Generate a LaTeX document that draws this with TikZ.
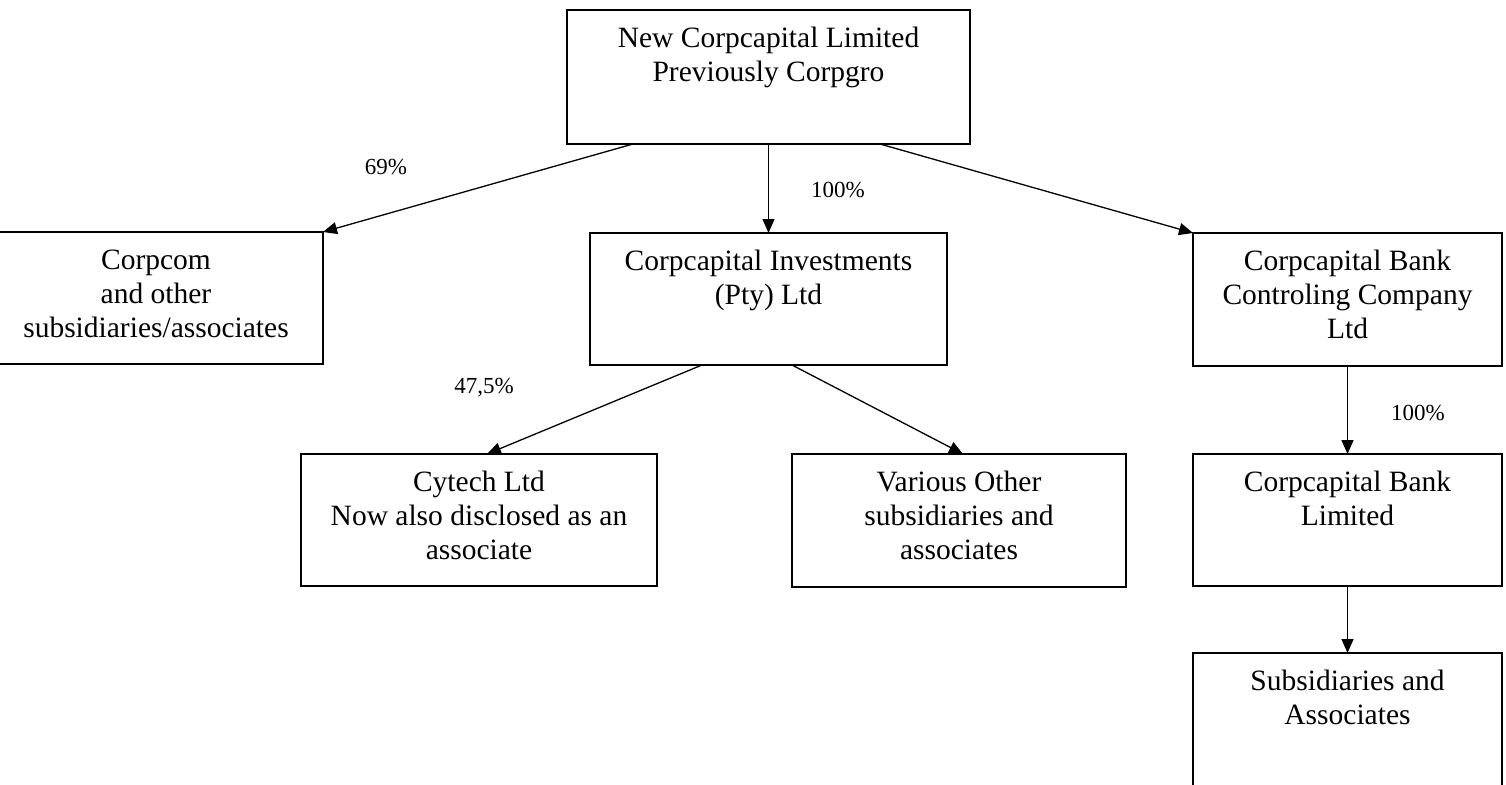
\documentclass[tikz,border=0pt]{standalone}
\usepackage{fontspec}
\setmainfont{Liberation Serif}
\usetikzlibrary{arrows.meta}
\begin{document}
\begin{tikzpicture}[x=1pt,y=-1pt,
  box/.style={draw, line width=1.5pt, rectangle, anchor=north west, inner sep=0pt, outer sep=0pt},
  btext/.style={anchor=north, align=center, inner sep=0pt, font=\fontsize{29.5}{34}\selectfont},
  pct/.style={font=\fontsize{23}{27}\selectfont, inner sep=0pt},
  conn/.style={line width=1.3pt, -{Triangle[length=14pt,width=12pt]}}]
\useasboundingbox (0,0) rectangle (1506,784);
\begin{scope}
\clip (0,0) rectangle (1506,784);
\node[box, minimum width=403pt, minimum height=134pt] (top) at (567,10) {};
\node[box, minimum width=334pt, minimum height=132pt] (corpcom) at (-11,232) {};
\node[box, minimum width=357pt, minimum height=132pt] (inv) at (590,233) {};
\node[box, minimum width=309pt, minimum height=133pt] (bank) at (1193,233) {};
\node[box, minimum width=356pt, minimum height=132pt] (cytech) at (301,454) {};
\node[box, minimum width=334pt, minimum height=133pt] (various) at (792,454) {};
\node[box, minimum width=309pt, minimum height=132pt] (bankltd) at (1193,454) {};
\node[box, minimum width=309pt, minimum height=160pt] (subs) at (1193,653) {};

\node[btext] (topT) at ([yshift=-16pt]top.north) {\rule{0pt}{21pt}New Corpcapital Limited\\Previously Corpgro};
\node[btext] (corpcomT) at ([yshift=-16pt]corpcom.north) {\rule{0pt}{21pt}Corpcom\\and other\\subsidiaries/associates};
\node[btext] (invT) at ([yshift=-16pt]inv.north) {\rule{0pt}{21pt}Corpcapital Investments\\(Pty) Ltd};
\node[btext] (bankT) at ([yshift=-16pt]bank.north) {\rule{0pt}{21pt}Corpcapital Bank\\Controling Company\\Ltd};
\node[btext] (cytechT) at ([yshift=-16pt]cytech.north) {\rule{0pt}{21pt}Cytech Ltd\\Now also disclosed as an\\associate};
\node[btext] (variousT) at ([yshift=-16pt]various.north) {\rule{0pt}{21pt}Various Other\\subsidiaries and\\associates};
\node[btext] (bankltdT) at ([yshift=-16pt]bankltd.north) {\rule{0pt}{21pt}Corpcapital Bank\\Limited};
\node[btext] (subsT) at ([yshift=-16pt]subs.north) {\rule{0pt}{21pt}Subsidiaries and\\Associates};

\node[pct] (p69) at (386,167) {69\%};
\node[pct] (p100a) at (838,190) {100\%};
\node[pct] (p475) at (484,388) {47,5\%};
\node[pct] (p100b) at (1418,413) {100\%};

\draw[conn] ([xshift=66pt]top.south west) -- (corpcom.north east);
\draw[conn] (top.south) -- (inv.north);
\draw[conn] ([xshift=-90pt]top.south east) -- (bank.north west);
\draw[conn] ([xshift=112pt]inv.south west) -- ([xshift=186pt]cytech.north west);
\draw[conn] ([xshift=202pt]inv.south west) -- ([xshift=171pt]various.north west);
\draw[conn] (bank.south) -- (bankltd.north);
\draw[conn] (bankltd.south) -- (subs.north);
\end{scope}
\end{tikzpicture}
\end{document}
